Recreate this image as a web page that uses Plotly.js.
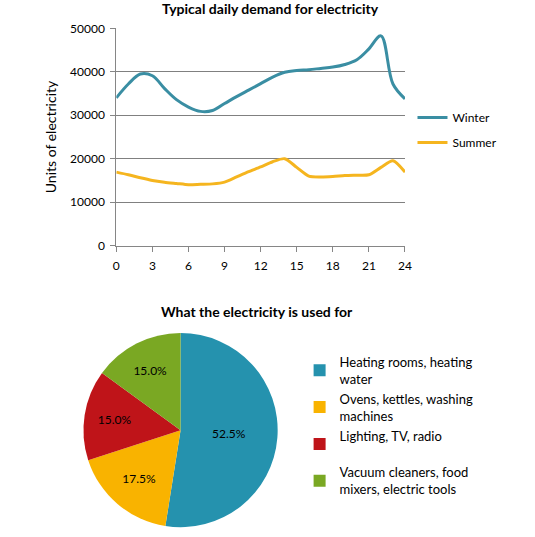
<!DOCTYPE html>
<html>
<head>
<meta charset="utf-8">
<script src="https://cdn.plot.ly/plotly-3.0.1.min.js"></script>
<style>
    html, body { margin: 0; padding: 0; background: #fff; }
    #chart { width: 535px; height: 537px; }
</style>
</head>
<body>
<div id="chart"></div>
<script>
// hours of the day
const hours = [0, 1, 2, 3, 4, 5, 6, 7, 8, 9, 10, 11, 12, 13, 14, 15, 16, 17, 18, 19, 20, 21, 22, 23, 24];
const winterDemand = [34000, 37200, 39500, 39100, 36200, 33600, 31900, 30900, 31100, 32700, 34300, 35800, 37300, 38800, 39900, 40300, 40500, 40800, 41100, 41700, 42800, 45300, 48300, 37200, 33800];
const summerDemand = [16900, 16300, 15600, 15000, 14600, 14300, 14000, 14100, 14200, 14600, 15800, 17000, 18100, 19300, 20000, 18000, 16000, 15800, 15900, 16100, 16200, 16300, 18000, 19500, 16900];
const xTicks = [0, 3, 6, 9, 12, 15, 18, 21, 24];

const usageLabels = [
    'Heating rooms, heating<br>water',
    'Ovens, kettles, washing<br>machines',
    'Lighting, TV, radio<br> ',
    'Vacuum cleaners, food<br>mixers, electric tools'
];
const usageShares = [52.5, 17.5, 15.0, 15.0];
const usageColors = ['#2592ae', '#f9b300', '#bf1419', '#7aa823'];

const FONT = 'Lato, "Open Sans", sans-serif';

const winter = {
    x: hours,
    y: winterDemand,
    type: 'scatter',
    mode: 'lines',
    name: 'Winter',
    legendgroup: 'w',
    line: { color: '#3a8ea3', width: 3, shape: 'spline', smoothing: 1 }
};

const summer = {
    x: hours,
    y: summerDemand,
    type: 'scatter',
    mode: 'lines',
    name: 'Summer',
    legendgroup: 's',
    line: { color: '#f5b51f', width: 3, shape: 'spline', smoothing: 0.7 }
};

const usage = {
    type: 'pie',
    labels: usageLabels,
    values: usageShares,
    sort: false,
    direction: 'clockwise',
    rotation: 0,
    legend: 'legend2',
    marker: { colors: usageColors, line: { color: '#ffffff', width: 0 } },
    texttemplate: '%{value:.1f}%',
    textposition: 'inside',
    insidetextorientation: 'horizontal',
    insidetextfont: { color: '#000000', size: 12, family: FONT },
    domain: { x: [0.156, 0.519], y: [0.018, 0.38] },
    hoverinfo: 'label+percent'
};

const layout = {
    width: 535,
    height: 537,
    margin: { l: 0, r: 0, t: 0, b: 0 },
    paper_bgcolor: '#ffffff',
    plot_bgcolor: '#ffffff',
    font: { family: FONT, size: 12, color: '#000000' },
    xaxis: {
        domain: [0.2174, 0.757],
        range: [0, 24],
        tickvals: xTicks,
        showgrid: false,
        zeroline: false,
        showline: true,
        linecolor: '#868686',
        ticks: 'outside',
        ticklen: 5,
        tickcolor: '#868686',
        ticklabelstandoff: 4,
        tickfont: { size: 12 }
    },
    yaxis: {
        domain: [0.5428, 0.947],
        range: [0, 50000],
        dtick: 10000,
        tickformat: 'd',
        showgrid: true,
        gridcolor: '#808080',
        zeroline: false,
        showline: true,
        linecolor: '#868686',
        ticks: 'outside',
        ticklen: 5,
        tickcolor: '#868686',
        ticklabelstandoff: 3,
        tickfont: { size: 12 },
        title: { text: 'Units of electricity', font: { size: 14 }, standoff: 10 }
    },
    legend: {
        x: 0.771, y: 0.808, xanchor: 'left', yanchor: 'top',
        traceorder: 'grouped',
        tracegroupgap: 6,
        font: { size: 12 },
        itemwidth: 30
    },
    legend2: {
        x: 0.56, y: 0.354, xanchor: 'left', yanchor: 'top',
        font: { size: 13 }
    },
    annotations: [
        {
            text: '<b>Typical daily demand for electricity</b>',
            xref: 'paper', yref: 'paper', x: 0.505, y: 0.984,
            xanchor: 'center', yanchor: 'middle', showarrow: false,
            font: { size: 14 }
        },
        {
            text: '<b>What the electricity is used for</b>',
            xref: 'paper', yref: 'paper', x: 0.48, y: 0.419,
            xanchor: 'center', yanchor: 'middle', showarrow: false,
            font: { size: 14 }
        }
    ]
};

Plotly.newPlot('chart', [winter, summer, usage], layout, { displayModeBar: false, staticPlot: true });
</script>
</body>
</html>
